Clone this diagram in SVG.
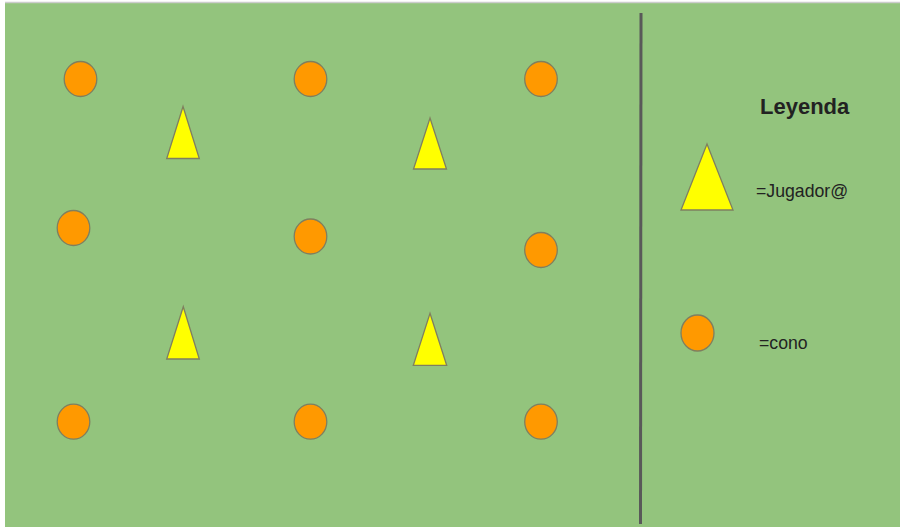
<svg xmlns="http://www.w3.org/2000/svg" width="900" height="528" viewBox="0 0 900 528">
<style>
.cone{fill:#ff9900;stroke:#7f7f5f;stroke-width:1.3}
.player{fill:#ffff00;stroke:#7f7f5f;stroke-width:1.3;stroke-linejoin:miter}
.lbl{font-family:"Liberation Sans",Arial,sans-serif;fill:#222}
</style>
<rect x="0" y="0" width="900" height="528" fill="#ffffff"/>
<rect x="5" y="3" width="895" height="524" fill="#93c47d"/>
<line x1="5" y1="2.5" x2="900" y2="2.5" stroke="#cccccc" stroke-width="1.5"/>
<g id="divider"><line x1="641" y1="13" x2="640.5" y2="524" stroke="#595959" stroke-width="3"/></g>
<g id="cone1"><ellipse class="cone" cx="80.5" cy="79" rx="16.3" ry="17.5"/></g>
<g id="cone2"><ellipse class="cone" cx="310.5" cy="79" rx="16.3" ry="17.5"/></g>
<g id="cone3"><ellipse class="cone" cx="541" cy="79" rx="16.3" ry="17.5"/></g>
<g id="cone4"><ellipse class="cone" cx="73.5" cy="228" rx="16.3" ry="17.5"/></g>
<g id="cone5"><ellipse class="cone" cx="310.5" cy="236.5" rx="16.3" ry="17.5"/></g>
<g id="cone6"><ellipse class="cone" cx="541" cy="250" rx="16.3" ry="17.5"/></g>
<g id="cone7"><ellipse class="cone" cx="73.5" cy="421.7" rx="16.3" ry="17.5"/></g>
<g id="cone8"><ellipse class="cone" cx="310.5" cy="421.7" rx="16.3" ry="17.5"/></g>
<g id="cone9"><ellipse class="cone" cx="541" cy="421.7" rx="16.3" ry="17.5"/></g>
<g id="player1"><polygon class="player" points="183,106.5 199.3,158.5 166.7,158.5"/></g>
<g id="player2"><polygon class="player" points="430,118 446.5,169 413.5,169"/></g>
<g id="player3"><polygon class="player" points="183.3,306.7 199.3,359 166.7,359"/></g>
<g id="player4"><polygon class="player" points="430,313.3 446.7,365.3 413.3,365.3"/></g>
<g id="legend-title"><text class="lbl" x="760" y="114" font-size="22" font-weight="bold" fill="#111">Leyenda</text></g>
<g id="legend-player">
<polygon class="player" points="707,144 733,210 681,210"/>
<text class="lbl" x="756" y="197" font-size="17.7">=Jugador@</text>
</g>
<g id="legend-cone">
<ellipse class="cone" cx="697.5" cy="333" rx="16.5" ry="18"/>
<text class="lbl" x="759" y="349" font-size="17.7">=cono</text>
</g>
</svg>
